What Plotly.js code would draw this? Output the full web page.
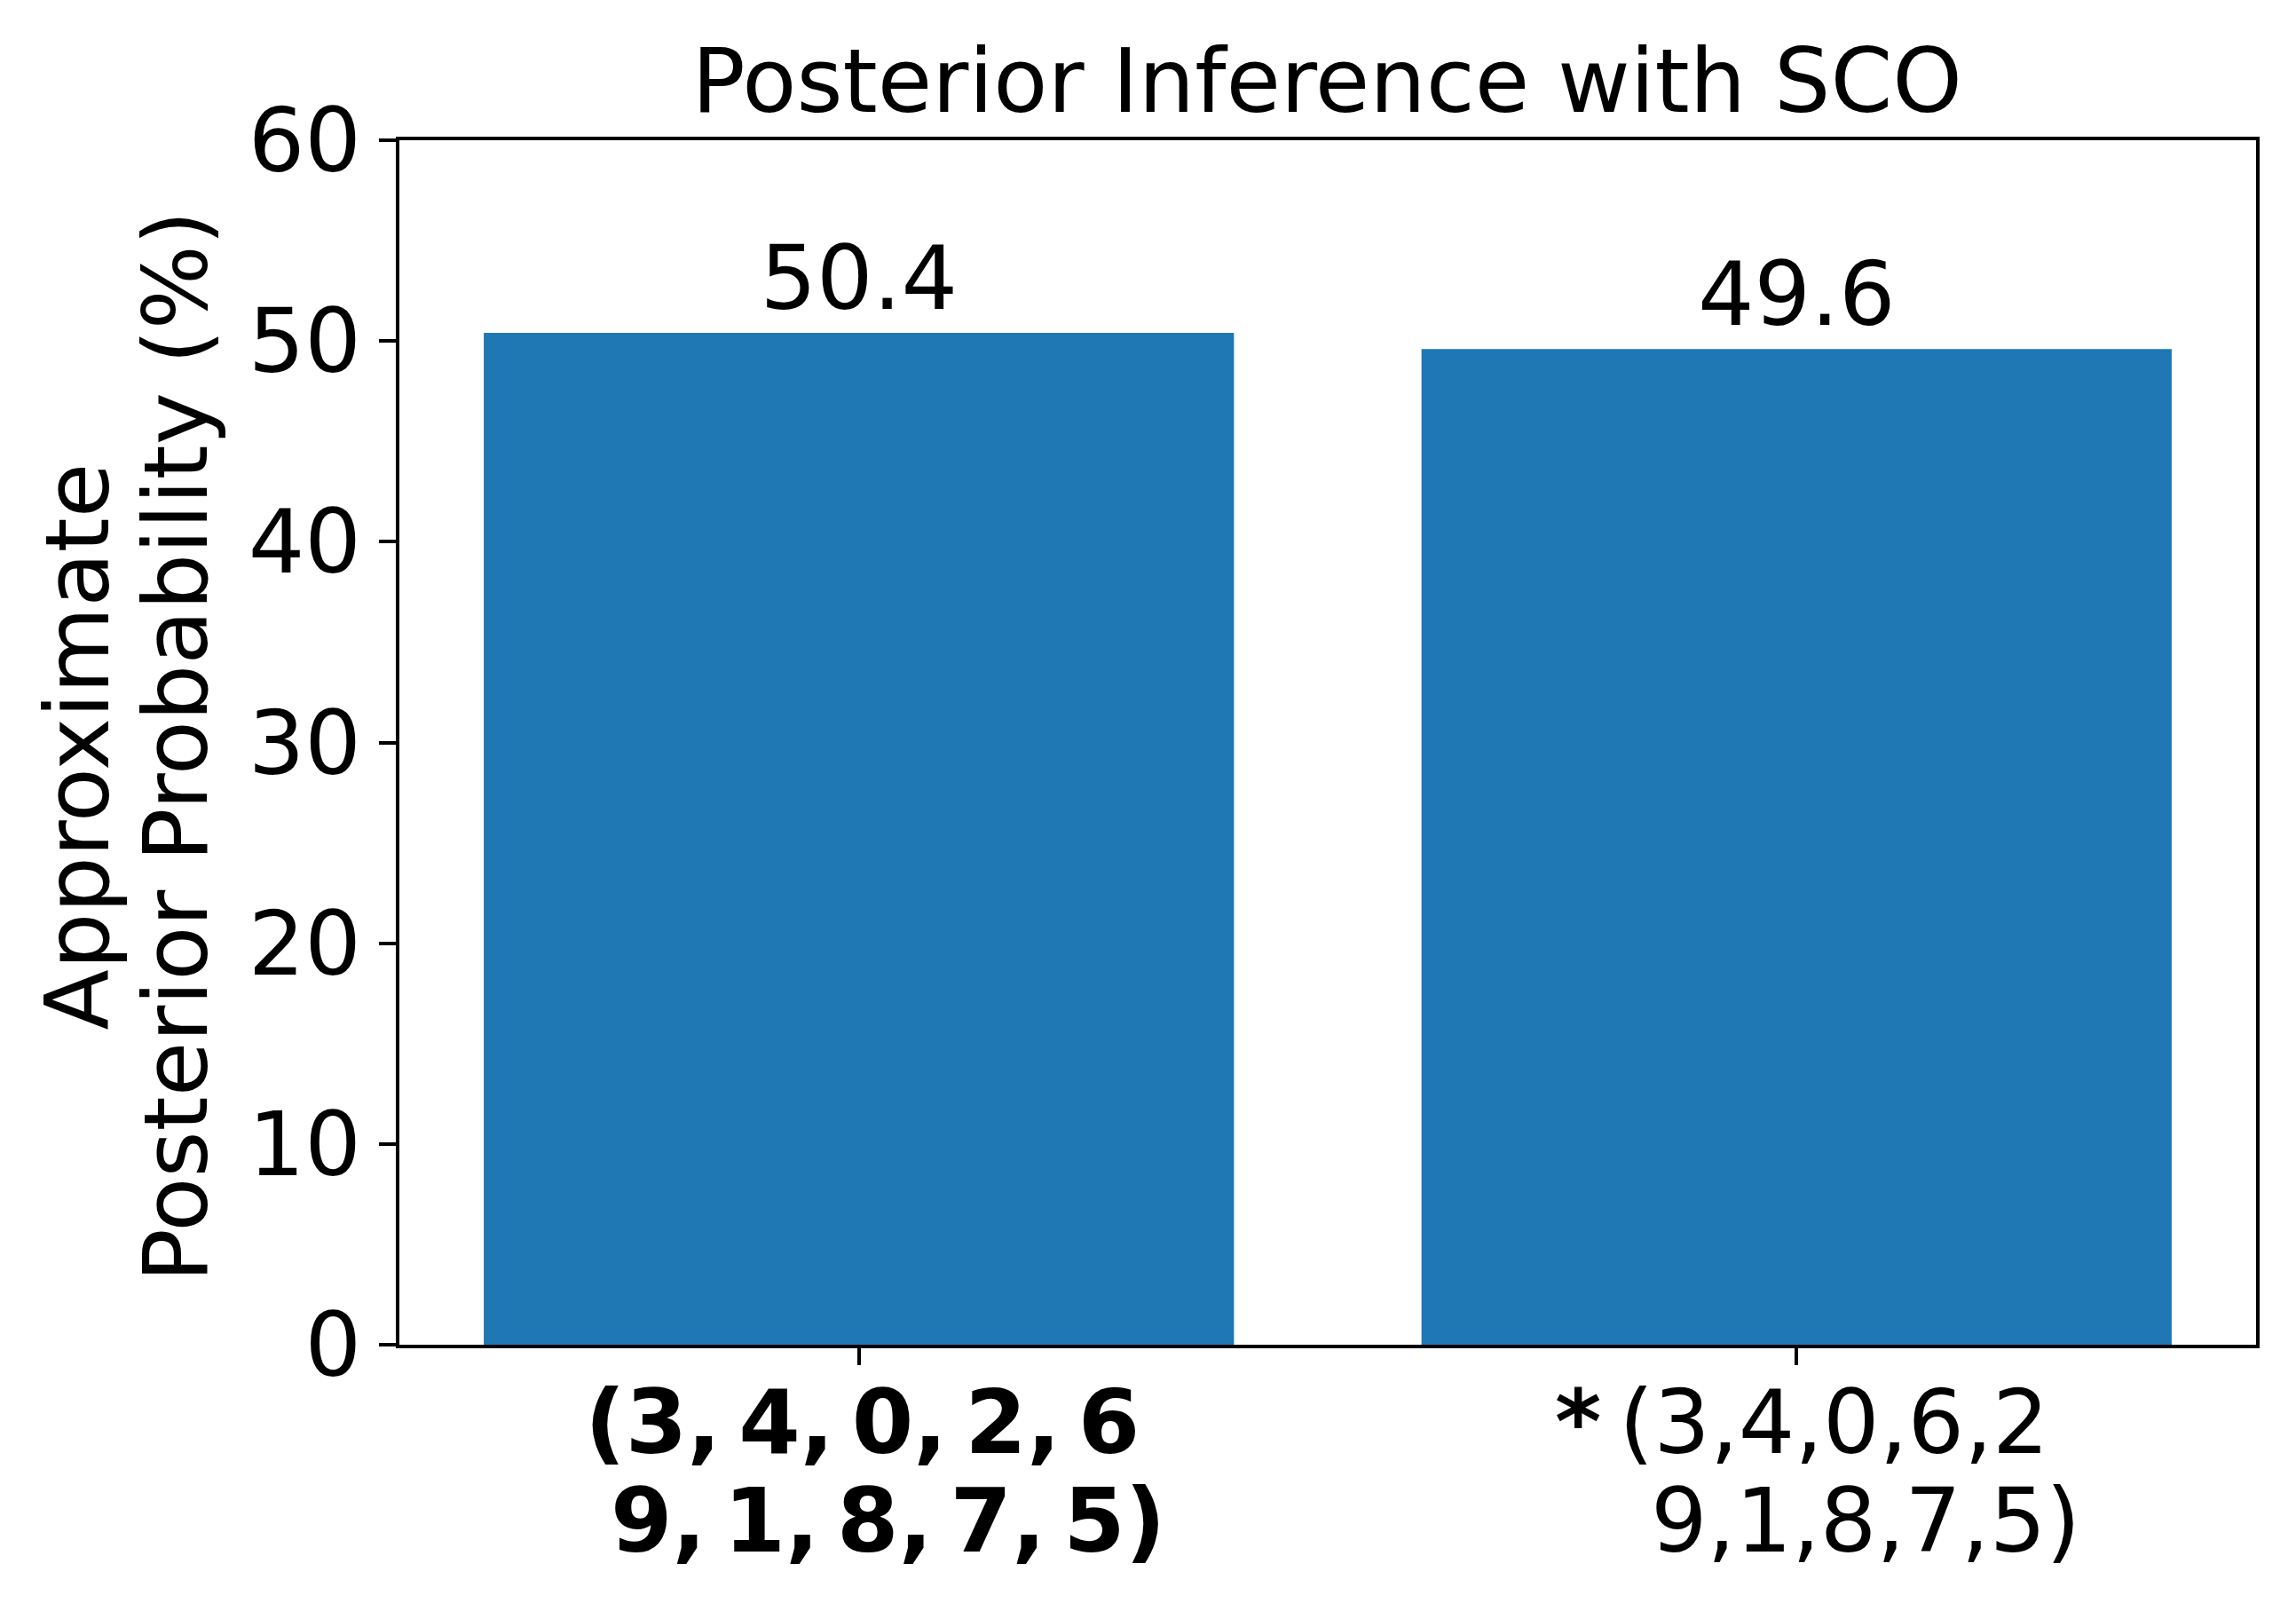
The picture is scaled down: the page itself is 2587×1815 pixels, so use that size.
<!DOCTYPE html>
<html>
<head>
<meta charset="utf-8">
<script src="https://cdn.plot.ly/plotly-3.0.1.min.js"></script>
<style>
  html, body { margin: 0; padding: 0; background: #fff; }
  #plot { width: 2587px; height: 1815px; }
</style>
</head>
<body>
<div id="plot"></div>
<script>
// data
let orderings = ["A", "B"];
// tick labels are two lines each; thin spaces for the bold math-style one
let labelLine1 = ["<b>(3,\u20094,\u20090,\u20092,\u20096</b>", "<b>*</b>\u2009(3,4,0,6,2"];
let labelLine2 = ["<b>9,\u20091,\u20098,\u20097,\u20095)</b>", "9,1,8,7,5)"];
let probability = [50.4, 49.6];
let yTitleLines = ["Approximate", "Posterior Probability (%)"];

let font = "DejaVu Sans, Liberation Sans, sans-serif";

let trace = {
    x: orderings,
    y: probability,
    type: "bar",
    marker: {color: "#1f77b4"},
    text: probability.map(v => v.toFixed(1)),
    textposition: "outside",
    textfont: {family: font, size: 100, color: "#000"},
    cliponaxis: false,
    hoverinfo: "none"
};

let annotations = [];
// x tick labels, one annotation per line so line spacing matches
let line1Shift = [4, 6];
let line2Shift = [33, 78];
orderings.forEach((c, i) => {
    annotations.push({
        x: c, xref: "x", y: 0, yref: "paper",
        text: labelLine1[i], showarrow: false,
        xanchor: "center", yanchor: "middle",
        xshift: line1Shift[i], yshift: -87,
        font: {family: font, size: 100, color: "#000"}
    });
    annotations.push({
        x: c, xref: "x", y: 0, yref: "paper",
        text: labelLine2[i], showarrow: false,
        xanchor: "center", yanchor: "middle",
        xshift: line2Shift[i], yshift: -198,
        font: {family: font, size: 100, color: "#000"}
    });
});
// y axis title, two rotated lines
let yTitleShift = [-363, -252];
yTitleLines.forEach((t, i) => {
    annotations.push({
        x: 0, xref: "paper", y: 0.5, yref: "paper",
        text: t, showarrow: false, textangle: -90,
        xanchor: "center", yanchor: "middle",
        xshift: yTitleShift[i], yshift: -5,
        font: {family: font, size: 100, color: "#000"}
    });
});

let layout = {
    width: 2587,
    height: 1815,
    margin: {l: 450, r: 45, t: 158, b: 300},
    paper_bgcolor: "#fff",
    plot_bgcolor: "#fff",
    font: {family: font, size: 100, color: "#000"},
    showlegend: false,
    bargap: 0.2,
    title: {
        text: "Posterior Inference with SCO",
        font: {family: font, size: 100, color: "#000"},
        x: 0.578,
        xanchor: "center",
        y: 0.950,
        yanchor: "middle"
    },
    xaxis: {
        type: "category",
        range: [-0.49, 1.49],
        tickvals: orderings,
        showticklabels: false,
        ticks: "outside",
        ticklen: 19,
        tickwidth: 4,
        tickcolor: "#000",
        showline: true,
        linecolor: "#000",
        linewidth: 4,
        mirror: true,
        showgrid: false,
        zeroline: false
    },
    yaxis: {
        range: [0, 60],
        dtick: 10,
        ticks: "outside",
        ticklen: 19,
        tickwidth: 4,
        tickcolor: "#000",
        showline: true,
        linecolor: "#000",
        linewidth: 4,
        mirror: true,
        showgrid: false,
        zeroline: false,
        tickfont: {family: font, size: 100, color: "#000"}
    },
    annotations: annotations
};

Plotly.newPlot("plot", [trace], layout, {displayModeBar: false, staticPlot: true});
</script>
</body>
</html>
